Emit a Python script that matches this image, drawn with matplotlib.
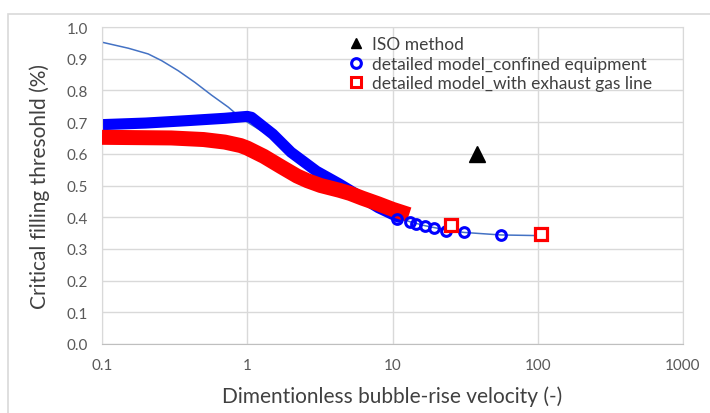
import matplotlib.pyplot as plt
from matplotlib.lines import Line2D
from matplotlib.patches import Rectangle

plt.rcParams['font.family'] = ['Lato', 'DejaVu Sans']

# thin fitted curve
fit_x = [0.1, 0.152, 0.208, 0.257, 0.335, 0.437, 0.568, 0.741, 0.92, 1.0, 1.5,
         2, 3, 4.3, 6, 8, 11, 13.1, 16.8, 23.2, 31, 55.5, 100]
fit_y = [0.952, 0.933, 0.915, 0.894, 0.862, 0.825, 0.785, 0.747, 0.71, 0.70,
         0.65, 0.605, 0.545, 0.505, 0.465, 0.43, 0.40, 0.386, 0.373, 0.36,
         0.352, 0.344, 0.342]

# detailed model_confined equipment (dense part + single points)
conf_dense_x = [0.1, 0.2, 0.4, 0.7, 1.0, 1.07, 1.5, 2, 3, 4.3, 6, 8, 11]
conf_dense_y = [0.692, 0.697, 0.705, 0.712, 0.718, 0.715, 0.662, 0.605, 0.545,
                0.505, 0.465, 0.43, 0.40]
conf_x = [10.8, 13.1, 14.6, 16.8, 19.4, 23.2, 31.0, 55.5]
conf_y = [0.394, 0.384, 0.379, 0.373, 0.366, 0.357, 0.352, 0.344]

# detailed model_with exhaust gas line
exh_dense_x = [0.1, 0.3, 0.5, 0.7, 0.9, 1.0, 1.3, 1.7, 2.2, 2.6, 3.2, 4.3,
               5.1, 6.2, 8.0, 10.0, 13.0]
exh_dense_y = [0.652, 0.65, 0.645, 0.637, 0.626, 0.618, 0.592, 0.56, 0.53,
               0.515, 0.50, 0.485, 0.475, 0.46, 0.442, 0.425, 0.408]
exh_x = [25.4, 106]
exh_y = [0.375, 0.346]

# ISO method
iso_x = [38]
iso_y = [0.60]

fig = plt.figure(figsize=(7.1, 4.14), dpi=100)
fig.patches.append(Rectangle((8 / 710, -0.1), 1.1, 1 - 15 / 414 + 0.1,
                             transform=fig.transFigure, fill=False,
                             edgecolor='#d9d9d9', lw=1.2))
ax = fig.add_axes([102 / 710, 1 - 345 / 414, 581 / 710, 317 / 414])

ax.plot(exh_dense_x, exh_dense_y, color='#ff0000', lw=10.8,
        solid_capstyle='butt', zorder=3)
ax.plot(exh_x, exh_y, 's', ms=8, mfc='white', mec='#ff0000', mew=2.3, zorder=5)
ax.plot(fit_x, fit_y, color='#4472c4', lw=1.1, zorder=2)
ax.plot(conf_dense_x, conf_dense_y, color='#0000ff', lw=8, solid_capstyle='round',
        zorder=2.5)
ax.plot(conf_x, conf_y, 'o', ms=7, mfc='none', mec='#0000ff', mew=2.2, zorder=4)
ax.plot(iso_x, iso_y, '^', ms=11, color='black', zorder=5)

ax.set_xscale('log')
ax.set_xlim(0.1, 1000)
ax.set_ylim(0, 1.0)
ax.set_xticks([0.1, 1, 10, 100, 1000])
ax.set_xticklabels(['0.1', '1', '10', '100', '1000'])
ax.minorticks_off()
ax.set_yticks([i / 10 for i in range(11)])
ax.set_yticklabels(['%.1f' % (i / 10) for i in range(11)])
ax.grid(True, color='#d9d9d9', lw=1)
ax.set_axisbelow(True)
for s in ax.spines.values():
    s.set_color('#d9d9d9')
ax.spines['bottom'].set_color('#bfbfbf')
ax.tick_params(length=0, labelsize=11, colors='#595959', pad=10)

ax.set_xlabel('Dimentionless bubble-rise velocity (-)', fontsize=15,
              color='#404040', labelpad=10)
ax.set_ylabel('Critical filling thresohld (%)', fontsize=15,
              color='#404040', labelpad=12)

handles = [Line2D([], [], ls='none', marker='^', ms=7, color='black'),
           Line2D([], [], ls='none', marker='o', ms=7, mfc='none', mec='#0000ff', mew=2.2),
           Line2D([], [], ls='none', marker='s', ms=7, mfc='none', mec='#ff0000', mew=2.2)]
labels = ['ISO method', 'detailed model_confined equipment',
          'detailed model_with exhaust gas line']
leg = fig.legend(handles, labels, loc='upper left', bbox_to_anchor=(337 / 710, 1 - 25 / 414),
                 frameon=False, fontsize=12.5, handlelength=0.8, handletextpad=0.5,
                 labelspacing=0.2, borderpad=0.2, labelcolor='#404040')

fig.savefig('out.png', dpi=100)
